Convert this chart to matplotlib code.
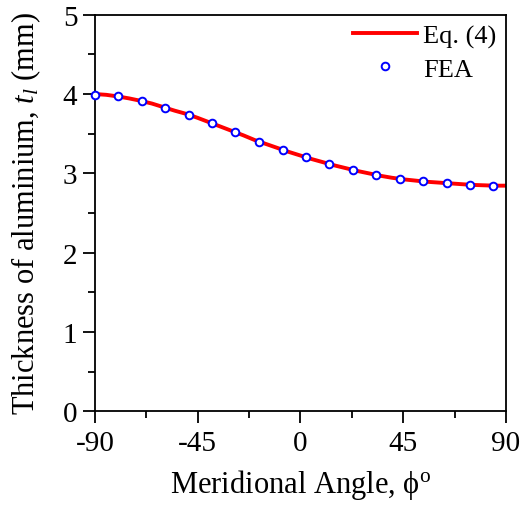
import matplotlib
matplotlib.use('Agg')
import matplotlib.pyplot as plt
from matplotlib import ticker

plt.rcParams['font.family'] = ['Liberation Serif', 'DejaVu Serif']
plt.rcParams['mathtext.fontset'] = 'custom'
plt.rcParams['mathtext.rm'] = 'Liberation Serif'
plt.rcParams['mathtext.it'] = 'Liberation Serif:italic'

# Eq. (4) curve
eq_angle = [-90, -85, -80, -75, -70, -65, -60, -55, -50, -45, -40, -35, -30,
            -25, -20, -15, -10, -5, 0, 5, 10, 15, 20, 25, 30, 35, 40, 45,
            50, 55, 60, 65, 70, 75, 80, 85, 90]
eq_thick = [4.00, 3.99, 3.97, 3.945, 3.915, 3.88, 3.835, 3.79, 3.75, 3.70,
            3.645, 3.59, 3.535, 3.48, 3.42, 3.37, 3.32, 3.27, 3.225, 3.18,
            3.14, 3.10, 3.065, 3.03, 3.00, 2.97, 2.945, 2.925, 2.91, 2.895,
            2.885, 2.875, 2.865, 2.855, 2.85, 2.845, 2.845]

# FEA points
fea_angle = [-90, -79.8, -69.5, -59.3, -48.8, -38.6, -28.4, -18.2, -7.7,
             2.4, 12.6, 22.9, 33.1, 43.6, 53.8, 64.0, 74.2, 84.5]
fea_thick = [3.99, 3.97, 3.91, 3.83, 3.74, 3.63, 3.52, 3.40, 3.30,
             3.20, 3.12, 3.04, 2.98, 2.93, 2.90, 2.88, 2.85, 2.845]

fig = plt.figure(figsize=(5.21, 5.06), dpi=100)
ax = fig.add_axes([0.182, 0.185, 0.789, 0.784])

ax.plot(eq_angle, eq_thick, color='red', lw=2.8, label='Eq. (4)', zorder=2)
ax.plot(fea_angle, fea_thick, 'o', ms=5.5, mfc='white', mec='blue', mew=1.4,
        label='FEA', zorder=3, clip_on=False)

ax.set_xlim(-90, 90)
ax.set_ylim(0, 5)
ax.xaxis.set_major_locator(ticker.MultipleLocator(45))
ax.xaxis.set_minor_locator(ticker.MultipleLocator(22.5))
ax.yaxis.set_major_locator(ticker.MultipleLocator(1))
ax.yaxis.set_minor_locator(ticker.MultipleLocator(0.5))
ax.tick_params(which='major', direction='out', length=8.5, width=1.3,
               labelsize=21, pad=4)
ax.tick_params(axis='x', which='major', pad=5)
ax.tick_params(which='minor', direction='out', length=5, width=1.3)
ax.xaxis.set_major_formatter(ticker.FuncFormatter(lambda v, p: '%d' % v))
ax.yaxis.set_major_formatter(ticker.FuncFormatter(lambda v, p: '%d' % v))
for s in ax.spines.values():
    s.set_linewidth(1.3)

ax.set_xlabel('Meridional Angle, ϕ$^{\\rm o}$', fontsize=22, labelpad=8)
ax.set_ylabel('Thickness of aluminium, $t_l$ (mm)', fontsize=22, labelpad=14)

ax.legend(loc='upper right', frameon=False, fontsize=19, handlelength=2.4,
          handletextpad=0.25, borderaxespad=0.0, labelspacing=0.35,
          borderpad=0.35)

fig.savefig('out.png', dpi=100)
